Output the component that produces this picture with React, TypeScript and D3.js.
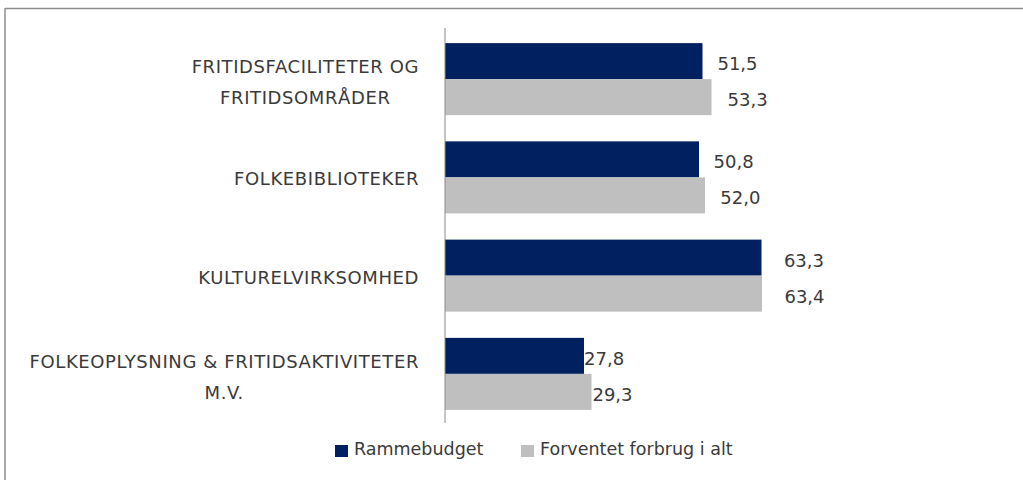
import React, { useEffect, useRef } from "react";
import * as d3 from "d3";

const categories = [
  "FRITIDSFACILITETER OG|FRITIDSOMRÅDER",
  "FOLKEBIBLIOTEKER",
  "KULTURELVIRKSOMHED",
  "FOLKEOPLYSNING & FRITIDSAKTIVITETER|M.V.",
];
const seriesNames = ["Rammebudget", "Forventet forbrug i alt"];
const rammebudget = [51.5, 50.8, 63.3, 27.8];
const forventet = [53.3, 52.0, 63.4, 29.3];
const seriesColors = ["#002060", "#BFBFBF"];

const W = 1023;
const H = 480;

export default function App() {
  const ref = useRef<SVGSVGElement | null>(null);

  useEffect(() => {
    const svg = d3.select(ref.current);
    svg.selectAll("*").remove();
    const font = "'DejaVu Sans', sans-serif";
    const textColor = "#3a3a3a";

    // frame
    svg.append("line").attr("x1", 5).attr("x2", W).attr("y1", 8.5).attr("y2", 8.5)
      .attr("stroke", "#8c8c8c").attr("stroke-width", 1.5);
    svg.append("line").attr("x1", 5).attr("x2", 5).attr("y1", 8).attr("y2", H)
      .attr("stroke", "#8c8c8c").attr("stroke-width", 1.5);

    const y = d3.scaleBand<string>().domain(categories).range([30, 423])
      .paddingInner(0.267).paddingOuter(0.1335);
    const ySub = d3.scaleBand<string>().domain(seriesNames).range([0, y.bandwidth()]);
    const x = d3.scaleLinear().domain([0, 70]).range([445, 795]);
    const xLabel = d3.scaleLinear().domain([0, 70]).range([427.5, 821.6]);

    const values = [rammebudget, forventet];

    const g = svg.append("g");
    seriesNames.forEach((s, si) => {
      categories.forEach((c, ci) => {
        const v = values[si][ci];
        const by = (y(c) as number) + (ySub(s) as number);
        g.append("rect").attr("x", x(0)).attr("y", by)
          .attr("width", x(v) - x(0)).attr("height", ySub.bandwidth())
          .attr("fill", seriesColors[si]);
        g.append("text").attr("x", xLabel(v)).attr("y", by + ySub.bandwidth() / 2 + 9)
          .attr("font-family", font).attr("font-size", 18).attr("fill", textColor)
          .text(d3.format(".1f")(v).replace(".", ","));
      });
    });

    // axis line
    svg.append("line").attr("x1", x(0)).attr("x2", x(0)).attr("y1", 28).attr("y2", 423)
      .attr("stroke", "#8a8a8a").attr("stroke-width", 1);

    // category labels
    const right = 419;
    const lineH = 31;
    categories.forEach((c) => {
      const lines = c.split("|");
      const cy = (y(c) as number) + y.bandwidth() / 2;
      const grp = svg.append("g");
      const texts = lines.map((ln, i) =>
        grp.append("text")
          .attr("font-family", font).attr("font-size", 18).attr("letter-spacing", 0.6)
          .attr("fill", textColor).attr("text-anchor", "middle")
          .attr("y", cy + 8 + (i - (lines.length - 1) / 2) * lineH + (lines.length > 1 ? 1.5 : 0))
          .text(ln)
      );
      const widths = texts.map((t) => (t.node() as SVGTextElement).getComputedTextLength());
      const maxW = Math.max(...widths);
      texts.forEach((t) => t.attr("x", right - maxW / 2));
    });

    // legend
    const legend = svg.append("g");
    const legendX = [335, 521];
    seriesNames.forEach((s, i) => {
      legend.append("rect").attr("x", legendX[i]).attr("y", 445).attr("width", 13).attr("height", 12)
        .attr("fill", seriesColors[i]);
      legend.append("text").attr("x", legendX[i] + 19).attr("y", 455)
        .attr("font-family", font).attr("font-size", 17.5).attr("fill", textColor).text(s);
    });
  }, []);

  return (
    <svg ref={ref} width={W} height={H}
      style={{ position: "absolute", left: 0, top: 0, background: "#fff" }} />
  );
}
